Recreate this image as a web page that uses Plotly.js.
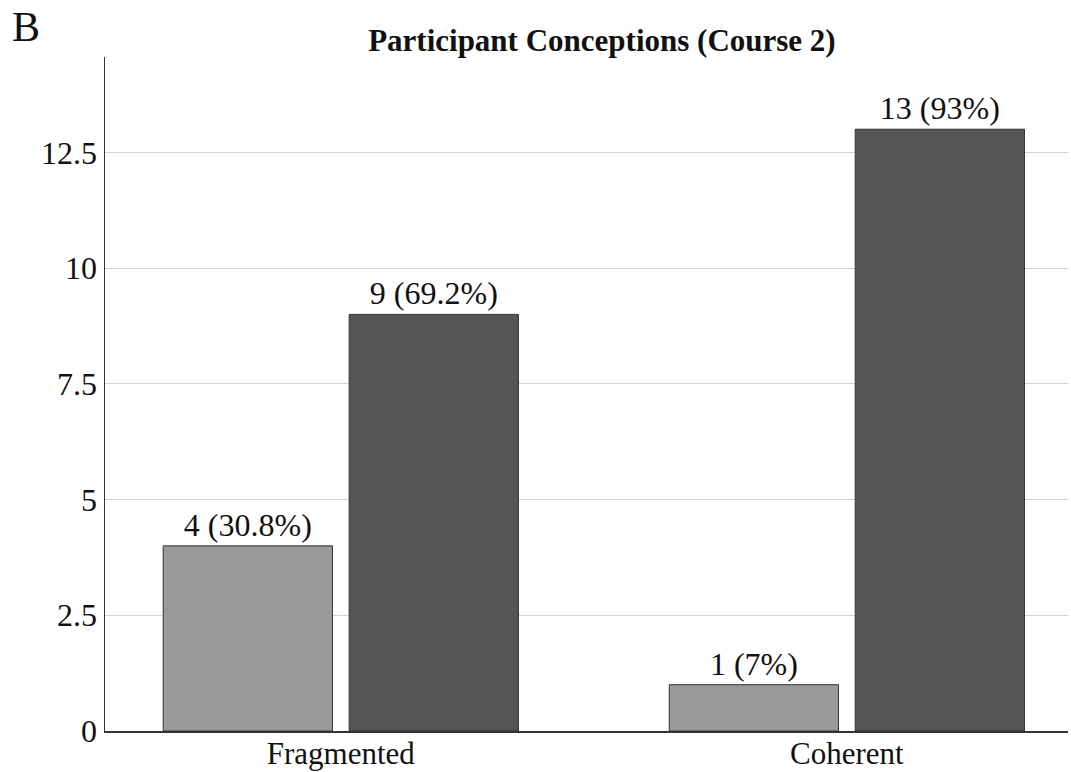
<!DOCTYPE html>
<html>
<head>
<meta charset="utf-8">
<script src="https://cdn.plot.ly/plotly-3.0.1.min.js"></script>
<style>html,body{margin:0;padding:0;background:#fff;}#chart{width:1071px;height:772px;}</style>
</head>
<body>
<div id="chart"></div>
<script>
const categories = ["Fragmented", "Coherent"];
const seriesA = [4, 1];
const seriesB = [9, 13];
const labelsA = ["4 (30.8%)", "1 (7%)"];
const labelsB = ["9 (69.2%)", "13 (93%)"];
const yTickVals = [0, 2.5, 5, 7.5, 10, 12.5];
const yTickText = ["0", "2.5", "5", "7.5", "10", "12.5"];

const serif = "Liberation Serif, Times New Roman, serif";

const traces = [
  {type: "bar", x: categories, y: seriesA, text: labelsA, textposition: "outside",
   cliponaxis: false, marker: {color: "#999999", line: {color: "#333333", width: 1}},
   textfont: {family: serif, size: 32, color: "#111"}, hoverinfo: "none"},
  {type: "bar", x: categories, y: seriesB, text: labelsB, textposition: "outside",
   cliponaxis: false, marker: {color: "#555555", line: {color: "#333333", width: 1}},
   textfont: {family: serif, size: 32, color: "#111"}, hoverinfo: "none"}
];

const layout = {
  width: 1071, height: 772,
  margin: {l: 105, r: 3, t: 57, b: 41, pad: 0},
  paper_bgcolor: "#fff", plot_bgcolor: "#fff",
  showlegend: false,
  barmode: "group", bargap: 0.265, bargroupgap: 0.09,
  font: {family: serif, color: "#111"},
  title: {text: "<b>Participant Conceptions (Course 2)</b>", font: {family: serif, size: 31, color: "#111"},
          x: 0.516, xref: "paper", y: 0.948, yref: "container", yanchor: "middle"},
  xaxis: {range: [-0.466, 1.437], showline: true, linecolor: "#333", linewidth: 1.5,
          ticks: "", showgrid: false, tickfont: {family: serif, size: 31, color: "#111"}, zeroline: false,
          ticklabelstandoff: -6},
  yaxis: {range: [0, 14.56], tickvals: yTickVals, ticktext: yTickText, showline: true, linecolor: "#333",
          linewidth: 1.5, ticks: "", showgrid: true, gridcolor: "#d3d3d3", gridwidth: 1, zeroline: false,
          tickfont: {family: serif, size: 32, color: "#111"}, ticklabelstandoff: 0},
  annotations: [
    {text: "B", xref: "paper", yref: "paper", x: -0.0987, y: 1.0438, xanchor: "left", yanchor: "middle",
     showarrow: false, font: {family: serif, size: 42, color: "#111"}}
  ]
};

Plotly.newPlot("chart", traces, layout, {staticPlot: true, displayModeBar: false});
</script>
</body>
</html>
